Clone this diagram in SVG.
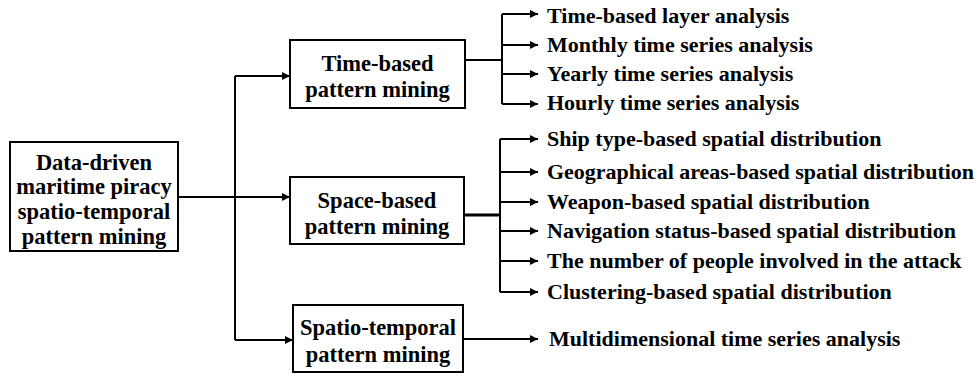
<svg xmlns="http://www.w3.org/2000/svg" width="980" height="376" viewBox="0 0 980 376">
<style>
.box{fill:#fff;stroke:#000;stroke-width:2}
.bt{font-family:"Liberation Serif","Times New Roman",serif;font-weight:bold;font-size:22.5px;text-anchor:middle;fill:#000}
.lt{font-family:"Liberation Serif","Times New Roman",serif;font-weight:bold;font-size:22px;fill:#000}
.ln{fill:none;stroke:#000;stroke-width:2}
</style>
<defs>
<marker id="ah" viewBox="0 0 10 10" refX="10" refY="5" markerWidth="9" markerHeight="8" markerUnits="userSpaceOnUse" orient="auto">
<path d="M0,0 L10,5 L0,10 z" fill="#000"/>
</marker>
</defs>
<rect width="980" height="376" fill="#fff"/>
<g id="connectors">
<path class="ln" d="M178,197 H235"/>
<path class="ln" d="M235,76 V340"/>
<path class="ln" d="M235,76 H290" marker-end="url(#ah)"/>
<path class="ln" d="M235,197 H290" marker-end="url(#ah)"/>
<path class="ln" d="M235,340 H293" marker-end="url(#ah)"/>
<path class="ln" d="M465,60 H502"/>
<path class="ln" d="M502,14 V104"/>
<path class="ln" d="M502,14 H538" marker-end="url(#ah)"/>
<path class="ln" d="M502,45 H538" marker-end="url(#ah)"/>
<path class="ln" d="M502,74 H538" marker-end="url(#ah)"/>
<path class="ln" d="M502,104 H538" marker-end="url(#ah)"/>
<path class="ln" d="M464,215 H500" style="stroke-width:3"/>
<path class="ln" d="M500,139 V292"/>
<path class="ln" d="M500,139 H538" marker-end="url(#ah)"/>
<path class="ln" d="M500,172 H538" marker-end="url(#ah)"/>
<path class="ln" d="M500,202 H538" marker-end="url(#ah)"/>
<path class="ln" d="M500,231 H538" marker-end="url(#ah)"/>
<path class="ln" d="M500,261 H538" marker-end="url(#ah)"/>
<path class="ln" d="M500,292 H538" marker-end="url(#ah)"/>
<path class="ln" d="M463,339 H538" marker-end="url(#ah)"/>
</g>
<g id="root">
<rect class="box" x="10" y="142" width="168" height="109"/>
<text class="bt" x="94" y="170">Data-driven</text>
<text class="bt" x="94" y="194">maritime piracy</text>
<text class="bt" x="94" y="219">spatio-temporal</text>
<text class="bt" x="94" y="244">pattern mining</text>
</g>
<g id="time">
<rect class="box" x="290" y="40" width="175" height="68"/>
<text class="bt" x="377.5" y="71">Time-based</text>
<text class="bt" x="377.5" y="97">pattern mining</text>
</g>
<g id="space">
<rect class="box" x="290" y="177" width="174" height="67"/>
<text class="bt" x="377" y="208">Space-based</text>
<text class="bt" x="377" y="234">pattern mining</text>
</g>
<g id="spatiotemporal">
<rect class="box" x="293" y="305" width="170" height="67"/>
<text class="bt" x="378" y="335">Spatio-temporal</text>
<text class="bt" x="378" y="362">pattern mining</text>
</g>
<g id="time-items">
<text class="lt" x="547" y="23">Time-based layer analysis</text>
<text class="lt" x="547" y="52">Monthly time series analysis</text>
<text class="lt" x="547" y="81">Yearly time series analysis</text>
<text class="lt" x="547" y="110">Hourly time series analysis</text>
</g>
<g id="space-items">
<text class="lt" x="547" y="146">Ship type-based spatial distribution</text>
<text class="lt" x="547" y="179" textLength="427" lengthAdjust="spacing">Geographical areas-based spatial distribution</text>
<text class="lt" x="547" y="209">Weapon-based spatial distribution</text>
<text class="lt" x="547" y="238">Navigation status-based spatial distribution</text>
<text class="lt" x="547" y="268">The number of people involved in the attack</text>
<text class="lt" x="547" y="299">Clustering-based spatial distribution</text>
</g>
<g id="st-items">
<text class="lt" x="549" y="346">Multidimensional time series analysis</text>
</g>
</svg>
